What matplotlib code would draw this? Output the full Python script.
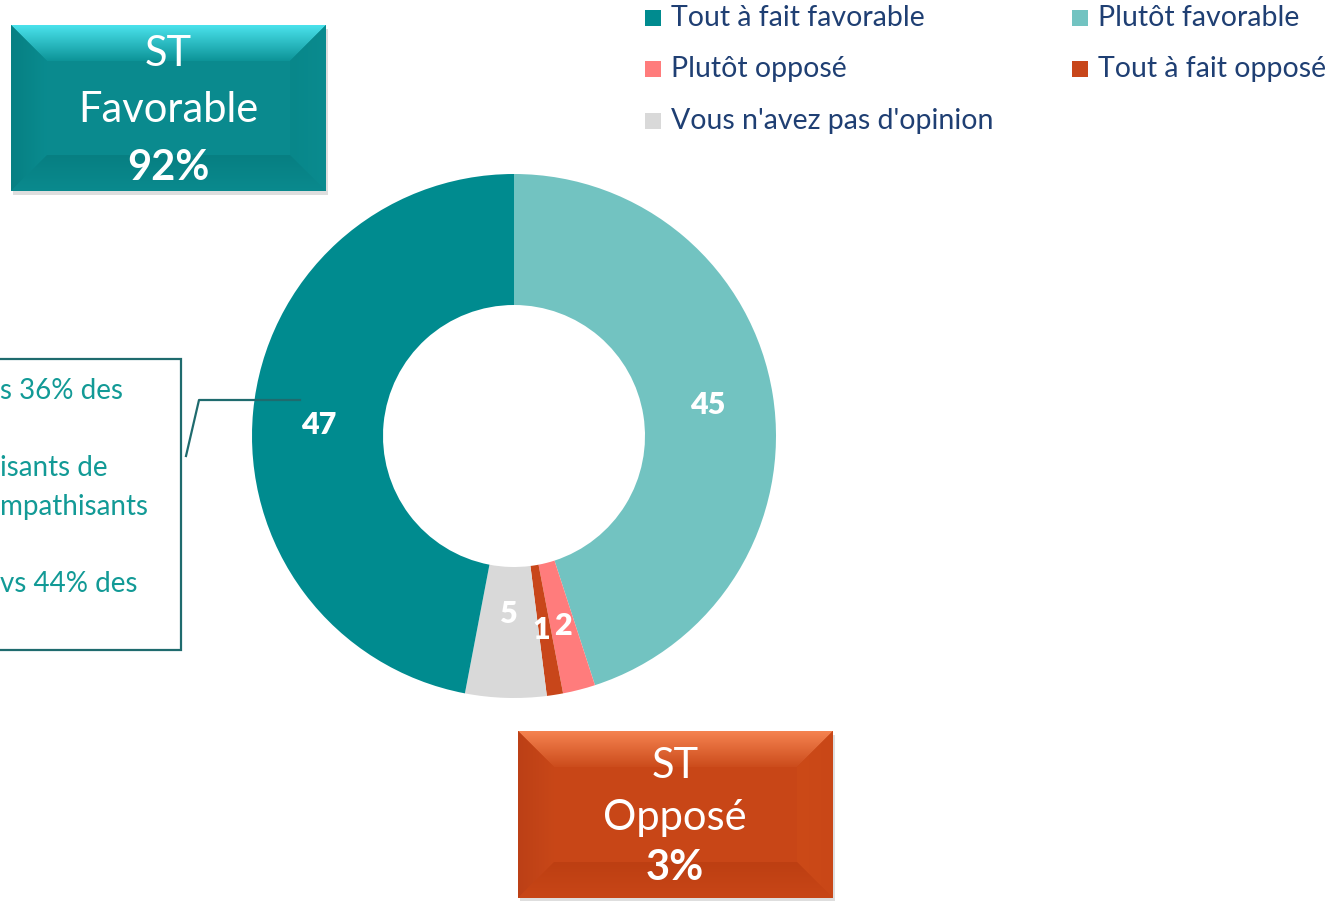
import matplotlib
matplotlib.use("Agg")
import matplotlib.pyplot as plt
from matplotlib.patches import Rectangle, Polygon
from matplotlib.colors import to_rgb
import numpy as np

plt.rcParams['font.family'] = ['Lato', 'DejaVu Sans']

# ---------------- data ----------------
categories = ["Tout à fait favorable", "Plutôt favorable", "Plutôt opposé",
              "Tout à fait opposé", "Vous n'avez pas d'opinion"]
values = [47, 45, 2, 1, 5]
colors = ["#008B8F", "#72C3C1", "#FF7C7C", "#C8461A", "#D9D9D9"]
pie_order = [1, 2, 3, 4, 0]          # clockwise from 12 o'clock
summary_titles = ["ST\nFavorable", "ST\nOpposé"]
summary_values = ["92%", "3%"]
note_lines = ["s 36% des", "", "isants de", "mpathisants", "", "vs 44% des"]

W, H = 1340, 901
fig = plt.figure(figsize=(W / 100, H / 100), dpi=100)

# ---------------- donut ----------------
cx, cy, R = 514, 436, 262
ax = fig.add_axes([(cx - R) / W, (H - cy - R) / H, 2 * R / W, 2 * R / H], zorder=2)
pv = [values[i] for i in pie_order]
pc = [colors[i] for i in pie_order]
wedges, _ = ax.pie(pv, colors=pc, startangle=90, counterclock=False,
                   radius=1, wedgeprops=dict(width=0.5, edgecolor='white', linewidth=0))
ax.set_xlim(-1, 1)
ax.set_ylim(-1, 1)
ax.set_aspect('equal')
ax.axis('off')
label_r = {4: 0.68}
for w, idx in zip(wedges, pie_order):
    ang = np.deg2rad((w.theta1 + w.theta2) / 2)
    r = label_r.get(idx, 0.75)
    dx = -0.012 if idx == 3 else 0
    dy = -0.03 if idx == 0 else 0
    ax.text(r * np.cos(ang) + dx, r * np.sin(ang) + dy, str(values[idx]), ha='center', va='center',
            color='white', fontsize=22, fontweight='heavy', zorder=10)

# ---------------- overlay (pixel coords) ----------------
ov2 = fig.add_axes([0, 0, 1, 1], zorder=5)
ov2.axis('off')
ov2.patch.set_alpha(0)


def grad_poly(a, pts, c_start, c_end, vertical=True):
    poly = Polygon(pts, closed=True, facecolor='none', edgecolor='none')
    a.add_patch(poly)
    xs = [p[0] for p in pts]
    ys = [p[1] for p in pts]
    n = 64
    t = np.linspace(0, 1, n)
    c0, c1 = np.array(to_rgb(c_start)), np.array(to_rgb(c_end))
    g = c0[None, :] * (1 - t[:, None]) + c1[None, :] * t[:, None]
    img = g[:, None, :] if vertical else g[None, :, :]
    im = a.imshow(img, extent=(min(xs), max(xs), max(ys), min(ys)), origin='upper',
                  aspect='auto', interpolation='bilinear', zorder=1.5)
    im.set_clip_path(poly)
    return im


def bevel_box(a, x0, y0, x1, y1, base, top0, top1, left0, left1, right0, right1, bot0, bot1):
    d = 36
    a.add_patch(Rectangle((x0 + 2, y0 + 4), x1 - x0, y1 - y0, color='#c8c8c8', alpha=0.6, lw=0, zorder=1))
    a.add_patch(Rectangle((x0, y0), x1 - x0, y1 - y0, color=base, lw=0, zorder=1.2))
    grad_poly(a, [(x0, y0), (x1, y0), (x1 - d, y0 + d), (x0 + d, y0 + d)], top0, top1, True)
    grad_poly(a, [(x0, y0), (x0 + d, y0 + d), (x0 + d, y1 - d), (x0, y1)], left0, left1, False)
    grad_poly(a, [(x1, y0), (x1 - d, y0 + d), (x1 - d, y1 - d), (x1, y1)], right1, right0, False)
    grad_poly(a, [(x0, y1), (x0 + d, y1 - d), (x1 - d, y1 - d), (x1, y1)], bot1, bot0, True)


bevel_box(ov2, 11, 25, 326, 191, '#0A8A8E',
          '#4AE2EC', '#0D9498', '#078083', '#0A8B8F', '#0A8B8F', '#08878A', '#0A8A8E', '#077F82')
bevel_box(ov2, 518, 731, 833, 898, '#C84617',
          '#F58350', '#CC4C1C', '#BC4016', '#C84718', '#C94718', '#CC4A17', '#C84617', '#BD3F12')

for (xc, ys, title, val) in [(168, (54, 110, 168), summary_titles[0], summary_values[0]),
                             (675, (766, 818, 868), summary_titles[1], summary_values[1])]:
    t1, t2 = title.split("\n")
    ov2.text(xc, ys[0], t1, ha='center', va='center', color='white', fontsize=30, zorder=3)
    ov2.text(xc, ys[1], t2, ha='center', va='center', color='white', fontsize=30, zorder=3)
    ov2.text(xc, ys[2], val, ha='center', va='center', color='white', fontsize=30,
             fontweight='bold', zorder=3)

# ---------------- note box ----------------
ov2.add_patch(Rectangle((-5, 359), 186, 291, fill=False, edgecolor='#1F6B6E', lw=1.6))
for i, line in enumerate(note_lines):
    if line:
        ov2.text(0, 391 + i * 38.5, line, ha='left', va='center', color='#129A96', fontsize=20)
ov2.plot([300, 199, 186], [400, 400, 456], color='#1F6B6E', lw=1.6)

# ---------------- legend ----------------
leg_pos = [(645, 18), (1072, 18), (645, 69), (1072, 69), (645, 121)]
for (lx, ly), cat, col in zip(leg_pos, categories, colors):
    ov2.add_patch(Rectangle((lx, ly - 8), 16, 16, color=col, lw=0))
    ov2.text(lx + 26, ly, cat, ha='left', va='center', color='#1F3F73', fontsize=20.5)

ov2.set_xlim(0, W)
ov2.set_ylim(H, 0)

fig.savefig("out.png", dpi=100)
